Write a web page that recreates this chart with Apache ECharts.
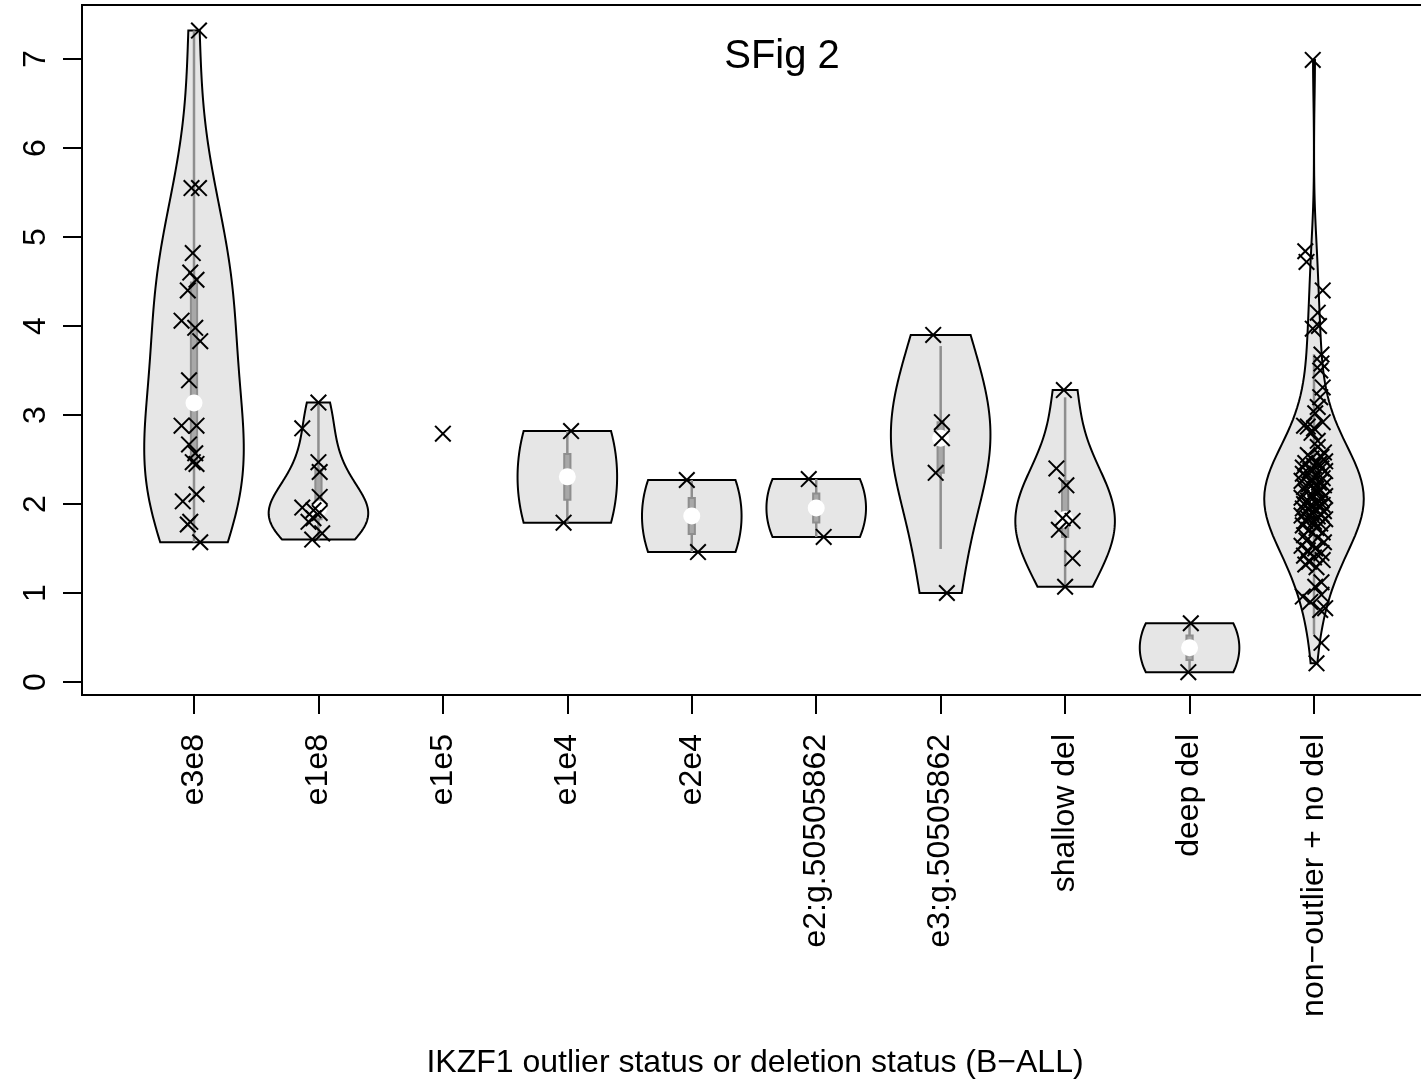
<!DOCTYPE html>
<html>
<head>
<meta charset="utf-8">
<script src="https://cdn.jsdelivr.net/npm/echarts@6/dist/echarts.min.js"></script>
<style>html,body{margin:0;padding:0;background:#fff}#c{width:1421px;height:1081px}</style>
</head>
<body>
<div id="c"></div>
<script>
// ---------------- data ----------------
const categories = ['e3e8', 'e1e8', 'e1e5', 'e1e4', 'e2e4', 'e2:g.50505862', 'e3:g.50505862', 'shallow del', 'deep del', 'non\u2212outlier + no del'];
const yTicks = [0, 1, 2, 3, 4, 5, 6, 7];
const chartTitle = 'SFig 2';
const xTitle = 'IKZF1 outlier status or deletion status (B\u2212ALL)';

const e3e8 = [7.32, 5.55, 5.55, 4.82, 4.60, 4.52, 4.40, 4.06, 3.98, 3.83, 3.39, 2.88, 2.88, 2.67, 2.57, 2.47, 2.45, 2.11, 2.03, 1.80, 1.77, 1.57];
const e3e8Jitter = [0.04, -0.02, 0.04, -0.01, -0.03, 0.02, -0.05, -0.10, 0.01, 0.05, -0.04, -0.10, 0.02, -0.04, 0.01, -0.01, 0.02, 0.02, -0.09, -0.03, -0.05, 0.05];

const e1e8 = [3.14, 2.85, 2.47, 2.36, 2.08, 1.96, 1.93, 1.90, 1.84, 1.80, 1.67, 1.60];
const e1e8Jitter = [0.00, -0.13, 0.00, 0.01, 0.01, -0.13, -0.04, 0.01, -0.04, -0.08, 0.03, -0.05];

const e1e5 = [2.79];
const e1e5Jitter = [0.00];

const e1e4 = [2.82, 1.79];
const e1e4Jitter = [0.03, -0.03];

const e2e4 = [2.27, 1.46];
const e2e4Jitter = [-0.04, 0.05];

const e2g = [2.28, 1.63];
const e2gJitter = [-0.06, 0.06];

const e3g = [3.90, 2.92, 2.74, 2.35, 1.00];
const e3gJitter = [-0.06, 0.01, 0.01, -0.04, 0.05];

const shallowDel = [3.28, 2.40, 2.21, 1.84, 1.81, 1.71, 1.39, 1.07];
const shallowDelJitter = [-0.01, -0.07, 0.01, -0.02, 0.06, -0.05, 0.06, 0.00];

const deepDel = [0.66, 0.11];
const deepDelJitter = [0.01, -0.01];

const nonOutlier = [6.99, 4.84, 4.72, 4.40, 4.15, 4.00, 3.97, 3.68, 3.58, 3.50,
  3.31, 3.20, 3.09, 3.02, 2.92, 2.88, 2.87, 2.85, 2.80, 2.71,
  2.64, 2.58, 2.55, 2.53, 2.51, 2.48, 2.46, 2.45, 2.44, 2.43,
  2.41, 2.40, 2.38, 2.37, 2.34, 2.33, 2.31, 2.29, 2.27, 2.26,
  2.24, 2.22, 2.21, 2.19, 2.17, 2.16, 2.14, 2.12, 2.10, 2.09,
  2.07, 2.05, 2.04, 2.02, 2.00, 1.99, 1.98, 1.97, 1.95, 1.94,
  1.92, 1.91, 1.90, 1.88, 1.87, 1.86, 1.84, 1.83, 1.81, 1.80,
  1.78, 1.76, 1.73, 1.71, 1.68, 1.65, 1.62, 1.59, 1.57, 1.53,
  1.50, 1.48, 1.45, 1.42, 1.40, 1.37, 1.35, 1.32, 1.29, 1.12,
  1.07, 0.98, 0.96, 0.90, 0.83, 0.81, 0.44, 0.21];
const nonOutlierJitter = [-0.01, -0.07, -0.06, 0.07, 0.03, 0.04, -0.01, 0.06, 0.06, 0.05,
  0.07, 0.05, 0.03, 0.01, 0.07, -0.08, -0.05, 0.00, -0.02, 0.03,
  0.03, 0.08, -0.05, 0.06, -0.02, 0.09, -0.07, 0.04, 0.04, 0.00,
  -0.09, 0.06, -0.03, 0.09, -0.09, 0.02, -0.06, 0.07, -0.01, -0.10,
  0.04, -0.04, 0.08, -0.08, 0.01, 0.05, -0.07, 0.03, -0.02, 0.09,
  -0.10, 0.06, -0.05, 0.02, -0.08, 0.07, -0.03, 0.04, -0.09, 0.01,
  0.08, -0.06, -0.02, 0.06, -0.10, 0.03, -0.05, 0.09, -0.07, 0.00,
  0.05, -0.09, 0.02, -0.04, 0.07, -0.08, 0.03, -0.06, 0.08, -0.10,
  0.01, -0.05, 0.06, -0.08, 0.00, 0.07, -0.04, -0.07, 0.02, 0.06,
  0.01, 0.06, -0.09, -0.03, 0.09, 0.05, 0.06, 0.02];

const groupValues = [e3e8, e1e8, e1e5, e1e4, e2e4, e2g, e3g, shallowDel, deepDel, nonOutlier];
const groupJitter = [e3e8Jitter, e1e8Jitter, e1e5Jitter, e1e4Jitter, e2e4Jitter, e2gJitter, e3gJitter, shallowDelJitter, deepDelJitter, nonOutlierJitter];

// ---------------- statistics (vioplot-like) ----------------
function quantile(s, p) {
  const h = (s.length - 1) * p, lo = Math.floor(h), hi = Math.min(lo + 1, s.length - 1);
  return s[lo] + (h - lo) * (s[hi] - s[lo]);
}
function violinStats(vals) {
  const s = vals.slice().sort((a, b) => a - b), n = s.length;
  const mean = s.reduce((a, b) => a + b, 0) / n;
  const sd = Math.sqrt(s.reduce((a, b) => a + (b - mean) * (b - mean), 0) / (n - 1));
  const h = sd * Math.pow(4 / (3 * n), 0.2);
  const min = s[0], max = s[n - 1], G = 100;
  const base = [], dens = [];
  for (let k = 0; k < G; k++) {
    const y = min + (max - min) * k / (G - 1);
    let d = 0;
    for (const v of s) { const z = (y - v) / h; d += Math.exp(-0.5 * z * z); }
    base.push(y); dens.push(d);
  }
  const mx = Math.max.apply(null, dens);
  const half = dens.map(d => d / mx * 0.4);
  const q1 = quantile(s, 0.25), q3 = quantile(s, 0.75), med = quantile(s, 0.5), iqr = q3 - q1;
  return { base, half, q1, q3, med, lo: Math.max(q1 - 1.5 * iqr, min), hi: Math.min(q3 + 1.5 * iqr, max) };
}
const stats = groupValues.map(v => v.length > 1 ? violinStats(v) : null);
const violinIdx = [];
stats.forEach((s, i) => { if (s) violinIdx.push([i + 1, s.med]); });

const pointData = [];
groupValues.forEach((vals, gi) => vals.forEach((v, k) => pointData.push([gi + 1 + groupJitter[gi][k], v])));

// ---------------- chart ----------------
const FONT = '"Liberation Sans", Arial, Helvetica, sans-serif';
const chart = echarts.init(document.getElementById('c'), null, { renderer: 'canvas' });

const option = {
  animation: false,
  backgroundColor: '#ffffff',
  grid: {
    left: 82, top: 5, width: 1344, height: 690,
    show: true, borderColor: '#000', borderWidth: 2, backgroundColor: 'transparent',
    containLabel: false, outerBoundsMode: 'none'
  },
  xAxis: {
    type: 'value', min: 0.1, max: 10.9,
    splitLine: { show: false },
    axisLine: { show: true, onZero: false, lineStyle: { color: '#000', width: 2 } },
    axisTick: { show: true, customValues: categories.map((c, i) => i + 1), length: 19, lineStyle: { color: '#000', width: 2 } },
    axisLabel: {
      show: true, customValues: categories.map((c, i) => i + 1),
      formatter: v => categories[Math.round(v) - 1],
      rotate: 90, margin: 39, fontSize: 32, color: '#000', fontFamily: FONT
    }
  },
  yAxis: {
    type: 'value', min: -0.146, max: 7.607,
    splitLine: { show: false },
    axisLine: { show: true, onZero: false, lineStyle: { color: '#000', width: 2 } },
    axisTick: { show: true, customValues: yTicks, length: 19, lineStyle: { color: '#000', width: 2 } },
    axisLabel: {
      show: true, customValues: yTicks, formatter: v => String(v),
      rotate: 90, margin: 30, fontSize: 32, color: '#000', fontFamily: FONT
    }
  },
  graphic: [
    { type: 'text', z: 100, style: { text: chartTitle, x: 782, y: 57, fontSize: 40, fontFamily: FONT, fill: '#000', textAlign: 'center', textVerticalAlign: 'middle' } },
    { type: 'text', z: 100, style: { text: xTitle, x: 755, y: 1063, fontSize: 32, fontFamily: FONT, fill: '#000', textAlign: 'center', textVerticalAlign: 'middle' } }
  ],
  series: [
    {
      type: 'custom',
      data: violinIdx,
      z: 2,
      renderItem: function (params, api) {
        const pos = api.value(0);
        const st = stats[pos - 1];
        const pts = [];
        for (let k = 0; k < st.base.length; k++) pts.push(api.coord([pos - st.half[k], st.base[k]]));
        for (let k = st.base.length - 1; k >= 0; k--) pts.push(api.coord([pos + st.half[k], st.base[k]]));
        const lineTop = api.coord([pos, st.hi]), lineBot = api.coord([pos, st.lo]);
        const b1 = api.coord([pos - 0.025, st.q3]), b2 = api.coord([pos + 0.025, st.q1]);
        const m = api.coord([pos, st.med]);
        return {
          type: 'group',
          children: [
            { type: 'polygon', shape: { points: pts }, style: { fill: '#e6e6e6', stroke: '#000', lineWidth: 2 } },
            { type: 'line', shape: { x1: lineTop[0], y1: lineTop[1], x2: lineBot[0], y2: lineBot[1] }, style: { stroke: '#8e8e8e', lineWidth: 2.5 } },
            { type: 'rect', shape: { x: b1[0], y: b1[1], width: b2[0] - b1[0], height: b2[1] - b1[1] }, style: { fill: '#a8a8a8', stroke: '#8e8e8e', lineWidth: 2 } },
            { type: 'circle', shape: { cx: m[0], cy: m[1], r: 8.5 }, style: { fill: '#ffffff', stroke: null } }
          ]
        };
      }
    },
    {
      type: 'custom',
      data: pointData,
      z: 5,
      renderItem: function (params, api) {
        const c = api.coord([api.value(0), api.value(1)]);
        const s = 7.8;
        return {
          type: 'group',
          children: [
            { type: 'line', shape: { x1: c[0] - s, y1: c[1] - s, x2: c[0] + s, y2: c[1] + s }, style: { stroke: '#000', lineWidth: 2 } },
            { type: 'line', shape: { x1: c[0] - s, y1: c[1] + s, x2: c[0] + s, y2: c[1] - s }, style: { stroke: '#000', lineWidth: 2 } }
          ]
        };
      }
    }
  ]
};
chart.setOption(option);
</script>
</body>
</html>
